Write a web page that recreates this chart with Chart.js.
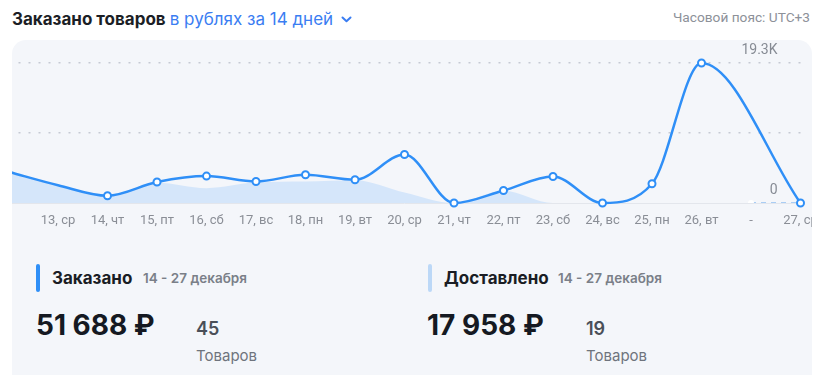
<!DOCTYPE html>
<html>
<head>
<meta charset="utf-8">
<script src="https://cdn.jsdelivr.net/npm/chart.js@4/dist/chart.umd.min.js"></script>
<style>
  body { margin: 0; background: #fff; font-family: Inter, sans-serif; width: 815px; height: 375px; overflow: hidden; position: relative; }
  .abs { position: absolute; white-space: nowrap; }
  .title { left: 12px; top: 9px; line-height: 20px; font-size: 17px; font-weight: 700; color: #1b1e25; }
  .title .sel { font-weight: 400; color: #3a7df2; margin-left: 0; }
  .title svg { margin-left: 8px; vertical-align: 2px; }
  .tz { right: 5px; top: 9px; line-height: 16px; font-family: Roboto, sans-serif; font-size: 13.7px; color: #8d9199; }
  .card { position: absolute; left: 12px; top: 40px; width: 800px; height: 335px; background: #f4f6fa; border-radius: 14px 14px 0 0; overflow: hidden; }
  #chart { position: absolute; left: -12px; top: 0; }
  .bar { width: 4px; height: 28px; border-radius: 2px; }
  .name { line-height: 22px; font-size: 17px; font-weight: 700; color: #1a1d24; }
  .dates { line-height: 18px; font-size: 13.5px; font-weight: 600; color: #7a7f88; }
  .sum { line-height: 34px; font-size: 28px; font-weight: 700; color: #151922; }
  .cnt { line-height: 22px; font-size: 18px; font-weight: 600; color: #4a4f58; }
  .unit { line-height: 20px; font-size: 15px; color: #6f747d; }
</style>
</head>
<body>
<div class="abs title">Заказано товаров <span class="sel">в рублях за 14 дней</span><svg width="11" height="7" viewBox="0 0 11 7"><path d="M1.5 1.5 L5.5 5.2 L9.5 1.5" fill="none" stroke="#3a7df2" stroke-width="2" stroke-linecap="round" stroke-linejoin="round"/></svg></div>
<div class="abs tz">Часовой пояс: UTC+3</div>

<div class="card">
  <canvas id="chart" width="840" height="189"></canvas>
</div>

<div class="abs bar" style="left:36px;top:264px;background:#2f8ff7"></div>
<div class="abs name" style="left:52px;top:267px">Заказано</div>
<div class="abs dates" style="left:143px;top:269px">14 - 27 декабря</div>
<div class="abs sum" style="left:36px;top:308px">51 688 ₽</div>
<div class="abs cnt" style="left:196px;top:318px">45</div>
<div class="abs unit" style="left:196px;top:346px">Товаров</div>

<div class="abs bar" style="left:428px;top:264px;background:#bcd8f7"></div>
<div class="abs name" style="left:444px;top:267px">Доставлено</div>
<div class="abs dates" style="left:558px;top:269px">14 - 27 декабря</div>
<div class="abs sum" style="left:427px;top:308px">17 958 ₽</div>
<div class="abs cnt" style="left:586px;top:318px">19</div>
<div class="abs unit" style="left:586px;top:346px">Товаров</div>

<script>
// x categories (first one is the day before the period, "-" is an empty slot)
const days = ['', '13, ср', '14, чт', '15, пт', '16, сб', '17, вс', '18, пн', '19, вт', '20, ср',
  '21, чт', '22, пт', '23, сб', '24, вс', '25, пн', '26, вт', '-', '27, ср'];

// ordered, rubles per day
const ordered = [4300, 2450, 1000, 2890, 3710, 2970, 3890, 3200, 6688,
  0, 1730, 3660, 0, 2650, 19300, null, 0];

// delivered, rubles per day
const delivered = [4300, 2450, 1000, 2800, 2050, 2850, 2958, 3150, 1450,
  0, 1700, 0, 0, 0, 0, 0, 0];

const yTicks = [0, 9650, 19300];

const blue = '#2f8ff7';
const lightBlue = '#d5e6fa';

const ctx = document.getElementById('chart').getContext('2d');

const chart = new Chart(ctx, {
  type: 'line',
  data: {
    labels: days,
    datasets: [
      {
        label: 'Заказано',
        data: ordered,
        order: 1,
        borderColor: blue,
        borderWidth: 2.5,
        fill: false,
        spanGaps: true,
        cubicInterpolationMode: 'monotone',
        clip: false,
        pointRadius: c => (c.dataIndex < 2 ? 0 : 3.5),
        pointBackgroundColor: '#fff',
        pointBorderColor: blue,
        pointBorderWidth: 2,
      },
      {
        label: 'Доставлено',
        data: delivered,
        order: 2,
        backgroundColor: lightBlue,
        fill: 'origin',
        borderWidth: 2,
        cubicInterpolationMode: 'monotone',
        segment: {
          borderColor: c => (c.p0DataIndex === 15 ? '#a9cdf4' : 'transparent'),
          borderDash: c => (c.p0DataIndex === 15 ? [5, 5] : undefined),
        },
        pointRadius: c => (c.dataIndex === 15 ? 3 : 0),
        pointBackgroundColor: '#fff',
        pointBorderWidth: 0,
      },
    ],
  },
  options: {
    responsive: false,
    animation: false,
    events: [],
    layout: { padding: { left: 8.5, right: 39.5, top: 23, bottom: 0 } },
    plugins: { legend: { display: false }, tooltip: { enabled: false } },
    scales: {
      x: {
        offset: false,
        afterFit: s => { s.paddingLeft = 0; s.paddingRight = 0; s.height = 26; },
        grid: { display: false, drawTicks: false },
        border: { display: true, color: '#e3e6ec', width: 1 },
        ticks: {
          autoSkip: false,
          maxRotation: 0,
          padding: 10,
          color: '#8a8e96',
          font: { family: 'Roboto', size: 13 },
        },
      },
      y: {
        position: 'right',
        min: 0,
        max: 19300,
        afterBuildTicks: s => { s.ticks = yTicks.map(v => ({ value: v })); },
        afterFit: s => { s.width = 0; s.paddingTop = 0; s.paddingBottom = 0; },
        grid: {
          drawTicks: false,
          color: c => (c.tick && c.tick.value === 0 ? 'transparent' : '#c5cad3'),
          lineWidth: 1.5,
        },
        border: { display: false, dash: [2, 8] },
        ticks: {
          mirror: true,
          padding: -23,
          labelOffset: -13,
          color: '#868b94',
          font: { family: 'Roboto', size: 14 },
          callback: v => (v === 0 ? '0' : v === 19300 ? '19.3K' : ''),
        },
      },
    },
  },
});
</script>
</body>
</html>
